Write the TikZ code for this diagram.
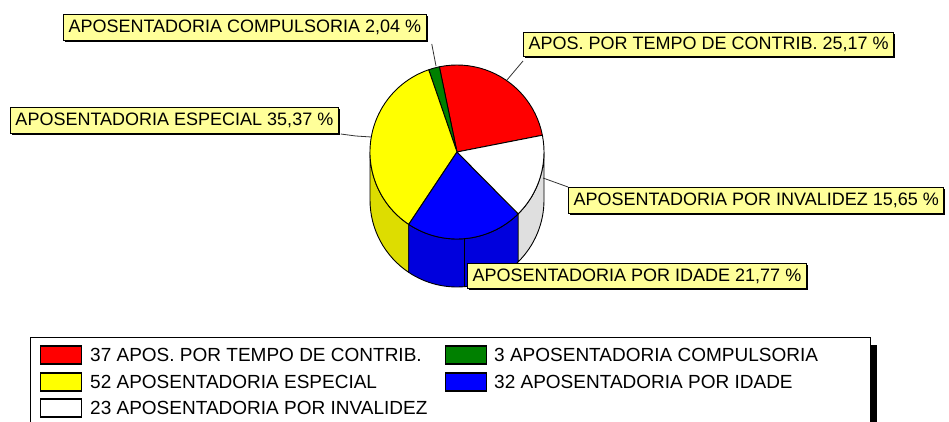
\documentclass[tikz,border=0pt]{standalone}
\usepackage{fontspec}
\setmainfont{Liberation Sans}
\usetikzlibrary{shadows}
\definecolor{slicered}{HTML}{FF0000}
\definecolor{slicegreen}{HTML}{008000}
\definecolor{sliceyellow}{HTML}{FFFF00}
\definecolor{sliceblue}{HTML}{0000FF}
\definecolor{sideyellow}{HTML}{DDDD00}
\definecolor{sideblue}{HTML}{0000DD}
\definecolor{sidegray}{HTML}{DFDFDF}
\definecolor{labelyellow}{HTML}{FFFF99}

\begin{document}
\begin{tikzpicture}[
    x=1pt, y=1pt,
    every node/.style={font=\fontsize{18}{20}\selectfont},
    labelbox/.style={
        rectangle,
        draw=black,
        fill=labelyellow,
        line width=1pt,
        minimum height=26pt,
        inner xsep=5pt,
        anchor=north west,
        drop shadow={shadow xshift=1.5pt, shadow yshift=-1.5pt, fill=black, opacity=1}
    },
    topface/.style={draw=black, line width=0.9pt, line join=round},
    sideface/.style={draw=black, line width=0.9pt, line join=round},
    leader/.style={draw=black!80, line width=0.8pt},
    swatch/.style={
        rectangle,
        draw=black,
        line width=1.2pt,
        minimum width=41pt,
        minimum height=18pt,
        inner sep=0pt,
        anchor=west
    },
    legtext/.style={anchor=west, inner sep=0pt, font=\fontsize{19}{22}\selectfont}
]
    \useasboundingbox (0,0) rectangle (949,422);
    \clip (0,0) rectangle (949,422);

    % === PIE: SIDE FACES ===
    \coordinate (c) at (457,270);
    \draw[sideface, fill=sideyellow] (c) ++(180:87) arc[start angle=180, end angle=236.3, radius=87]
        -- ++(0,-48) arc[start angle=236.3, end angle=180, radius=87] -- cycle;
    \draw[sideface, fill=sideblue] (c) ++(236.3:87) arc[start angle=236.3, end angle=314.7, radius=87]
        -- ++(0,-48) arc[start angle=314.7, end angle=236.3, radius=87] -- cycle;
    \draw[sideface, fill=sidegray] (c) ++(314.7:87) arc[start angle=314.7, end angle=360, radius=87]
        -- ++(0,-48) arc[start angle=360, end angle=314.7, radius=87] -- cycle;
    \draw[sideface] (c) ++(275:87) -- ++(0,-48);

    % === PIE: TOP FACE ===
    \draw[topface, fill=slicered] (c) -- ++(11.1:87) arc[start angle=11.1, end angle=101.7, radius=87] -- cycle;
    \draw[topface, fill=slicegreen] (c) -- ++(101.7:87) arc[start angle=101.7, end angle=109, radius=87] -- cycle;
    \draw[topface, fill=sliceyellow] (c) -- ++(109:87) arc[start angle=109, end angle=236.3, radius=87] -- cycle;
    \draw[topface, fill=sliceblue] (c) -- ++(236.3:87) arc[start angle=236.3, end angle=314.7, radius=87] -- cycle;
    \draw[topface, fill=white] (c) -- ++(314.7:87) arc[start angle=314.7, end angle=371.1, radius=87] -- cycle;

    % === LABELS ===
    \node[labelbox] (lblcomp) at (63,408) {APOSENTADORIA COMPULSORIA 2,04 \%};
    \node[labelbox, minimum height=24pt] (lbltempo) at (523,390) {APOS. POR TEMPO DE CONTRIB. 25,17 \%};
    \node[labelbox] (lblesp) at (10,315) {APOSENTADORIA ESPECIAL 35,37 \%};
    \node[labelbox] (lblinv) at (568,235) {APOSENTADORIA POR INVALIDEZ 15,65 \%};
    \node[labelbox, minimum height=25pt] (lblidade) at (467,159) {APOSENTADORIA POR IDADE 21,77 \%};

    % leader lines
    \coordinate (tipcomp) at (436,356);
    \coordinate (tiptempo) at (507,342);
    \coordinate (tipesp) at (371,285);
    \coordinate (tipinv) at (543,244);
    \draw[leader] ([xshift=5pt,yshift=-3pt]lblcomp.south east) -- (tipcomp);
    \draw[leader] ([yshift=-4pt]lbltempo.south west) -- (tiptempo);
    \draw[leader] ([xshift=2pt]lblesp.south east) -- ++(15,-2) -- (tipesp);
    \draw[leader] (tipinv) -- (lblinv.north west);

    % === LEGEND ===
    \draw[line width=1pt] (30,84) rectangle (870,-20);
    \fill[black] (870,77) rectangle (877,-20);

    \node[swatch, fill=slicered] (swtempo) at (40,67) {};
    \node[legtext] (txtempo) at (90,67) {37 APOS. POR TEMPO DE CONTRIB.};
    \node[swatch, fill=sliceyellow] (swesp) at (40,40) {};
    \node[legtext] (txesp) at (90,40) {52 APOSENTADORIA ESPECIAL};
    \node[swatch, fill=white] (swinv) at (40,14) {};
    \node[legtext] (txinv) at (90,14) {23 APOSENTADORIA POR INVALIDEZ};

    \node[swatch, fill=slicegreen] (swcomp) at (445,67) {};
    \node[legtext] (txcomp) at (494,67) {3 APOSENTADORIA COMPULSORIA};
    \node[swatch, fill=sliceblue] (swidade) at (445,40) {};
    \node[legtext] (txidade) at (494,40) {32 APOSENTADORIA POR IDADE};
\end{tikzpicture}
\end{document}
